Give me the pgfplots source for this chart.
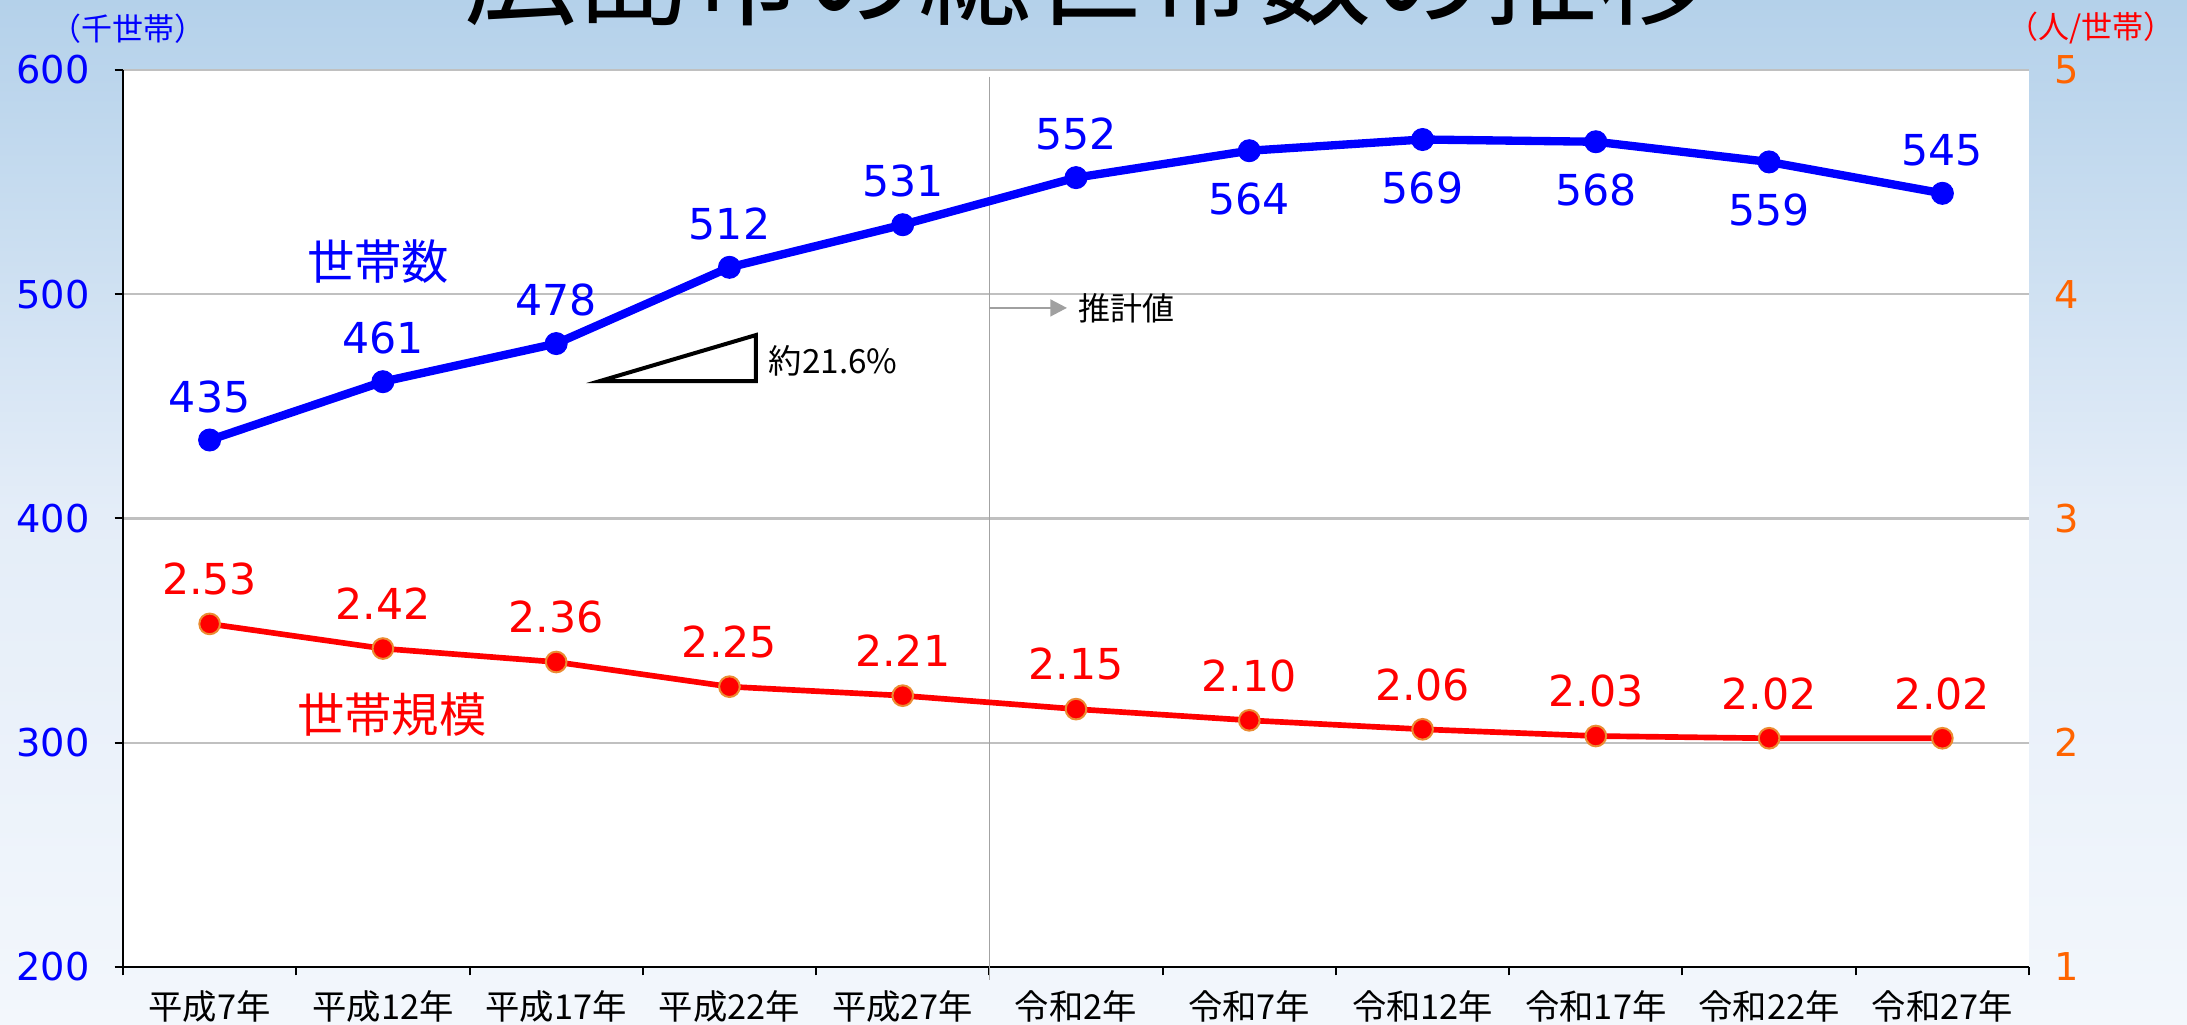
\documentclass[border=0pt]{standalone}
\usepackage{pgfplots}
\pgfplotsset{compat=1.18}
\usepackage{pgfplotstable}
\usepackage{fontspec}
\setmainfont{DejaVu Sans}
\newfontfamily\jp{Noto Sans CJK JP}
\usetikzlibrary{arrows.meta}

\definecolor{bgtop}{RGB}{180,209,234}
\definecolor{bgmid}{RGB}{228,237,248}
\definecolor{bgbot}{RGB}{243,247,252}
\definecolor{myblue}{RGB}{0,0,255}
\definecolor{myred}{RGB}{255,0,0}
\definecolor{myorange}{RGB}{255,100,0}
\definecolor{mkorange}{RGB}{235,140,50}
\definecolor{gridgray}{RGB}{192,192,192}
\definecolor{arrgray}{RGB}{160,160,160}

\pgfplotstableread{
x hh pos
0 435 13
1 461 13
2 478 13
3 512 13
4 531 13
5 552 13
6 564 -14.5
7 569 -14.5
8 568 -14.5
9 559 -14.5
10 545 13
}\hhdata

\pgfplotstableread{
x sz
0 2.53
1 2.42
2 2.36
3 2.25
4 2.21
5 2.15
6 2.10
7 2.06
8 2.03
9 2.02
10 2.02
}\szdata

\pgfplotsset{/pgf/number format/assume math mode=true}

\begin{document}
\begin{tikzpicture}[x=1pt,y=1pt]
\shade[top color=bgtop, bottom color=bgbot, middle color=bgmid] (0,0) rectangle (656.1,307.5);
\begin{scope}
\clip (0,0) rectangle (656.1,307.5);
\node[anchor=base, font=\jp\fontsize{34}{36}\selectfont, inner sep=0] at (326.4,302.5) {広島市の総世帯数の推移};
\end{scope}
\node[text=myblue, font=\jp\fontsize{9.3}{11}\selectfont, inner sep=0] at (38.5,299) {（千世帯）};
\node[text=myred, font=\jp\fontsize{9.3}{11}\selectfont, inner sep=0] at (627.3,299) {（人/世帯）};

\begin{axis}[
  at={(36.9pt,17.4pt)}, anchor=south west,
  scale only axis, width=571.8pt, height=269.1pt,
  xmin=-0.5, xmax=10.5, ymin=200, ymax=600,
  clip=false,
  axis background/.style={fill=white},
  axis x line*=bottom, axis y line*=left,
  axis line style={black, line width=0.8pt, -},
  xtick={0,...,10},
  xticklabels={平成7年,平成12年,平成17年,平成22年,平成27年,令和2年,令和7年,令和12年,令和17年,令和22年,令和27年},
  major x tick style={draw=none},
  minor xtick={-0.5,0.5,...,10.5},
  minor x tick style={black, line width=0.6pt},
  minor tick length=2.5pt,
  xticklabel style={font=\jp\fontsize{10.3}{12}\selectfont, text=black, yshift=-1pt},
  ytick={200,300,400,500,600},
  ytick style={black, line width=0.6pt},
  major tick length=2.5pt,
  tick align=outside,
  yticklabel style={text=myblue, font=\fontsize{11.5}{13}\selectfont, xshift=-4pt},
  ymajorgrids,
  grid style={gridgray, line width=0.7pt},
]
\draw[gridgray!85!black, line width=0.5pt] (axis cs:4.5,597) -- ([yshift=-4pt]axis cs:4.5,200);
\addplot[myblue, line width=2.5pt, mark=*, mark size=3.3pt,
  mark options={solid, fill=myblue, draw=myblue, line width=0.3pt},
  point meta=\thisrow{hh},
  nodes near coords,
  visualization depends on={\thisrow{pos} \as \lp},
  every node near coord/.append style={anchor=center, yshift={\lp*1pt}, text=myblue, font=\fontsize{12.8}{14}\selectfont}
] table[x=x, y=hh] {\hhdata};
\draw[black, line width=1.2pt] (axis cs:2.253,461.3) -- (axis cs:3.153,461.3) -- (axis cs:3.153,481.8) -- cycle;
\node[anchor=west, font=\jp\fontsize{10}{12}\selectfont, inner sep=0] at (axis cs:3.223,470.2) {約21.6\%};
\draw[arrgray, line width=0.8pt, -{Triangle[length=5pt,width=5pt]}] (axis cs:4.5,493.9) -- (axis cs:4.948,493.9);
\node[font=\jp\fontsize{9.6}{12}\selectfont, inner sep=0] at (axis cs:5.294,493.9) {推計値};
\node[text=myblue, font=\jp\fontsize{14.2}{16}\selectfont] at (axis cs:0.972,514.4) {世帯数};
\node[text=myred, font=\jp\fontsize{14.2}{16}\selectfont] at (axis cs:1.052,312.8) {世帯規模};
\end{axis}

\begin{axis}[
  at={(36.9pt,17.4pt)}, anchor=south west,
  scale only axis, width=571.8pt, height=269.1pt,
  xmin=-0.5, xmax=10.5, ymin=1, ymax=5,
  clip=false,
  hide x axis,
  axis y line*=right,
  y axis line style={draw=none},
  ytick={1,2,3,4,5},
  ytick style={draw=none},
  yticklabel style={text=myorange, font=\fontsize{11.5}{13}\selectfont, xshift=4pt},
]
\addplot[myred, line width=1.7pt, mark=*, mark size=3.1pt,
  mark options={solid, fill=myred, draw=mkorange, line width=0.6pt},
  point meta=\thisrow{sz},
  nodes near coords,
  every node near coord/.append style={anchor=center, yshift=13.4pt, text=myred, font=\fontsize{12.8}{14}\selectfont,
    /pgf/number format/fixed, /pgf/number format/fixed zerofill, /pgf/number format/precision=2}
] table[x=x, y=sz] {\szdata};
\end{axis}
\pgfresetboundingbox
\useasboundingbox (0,0) rectangle (656.1,307.5);
\end{tikzpicture}
\end{document}
